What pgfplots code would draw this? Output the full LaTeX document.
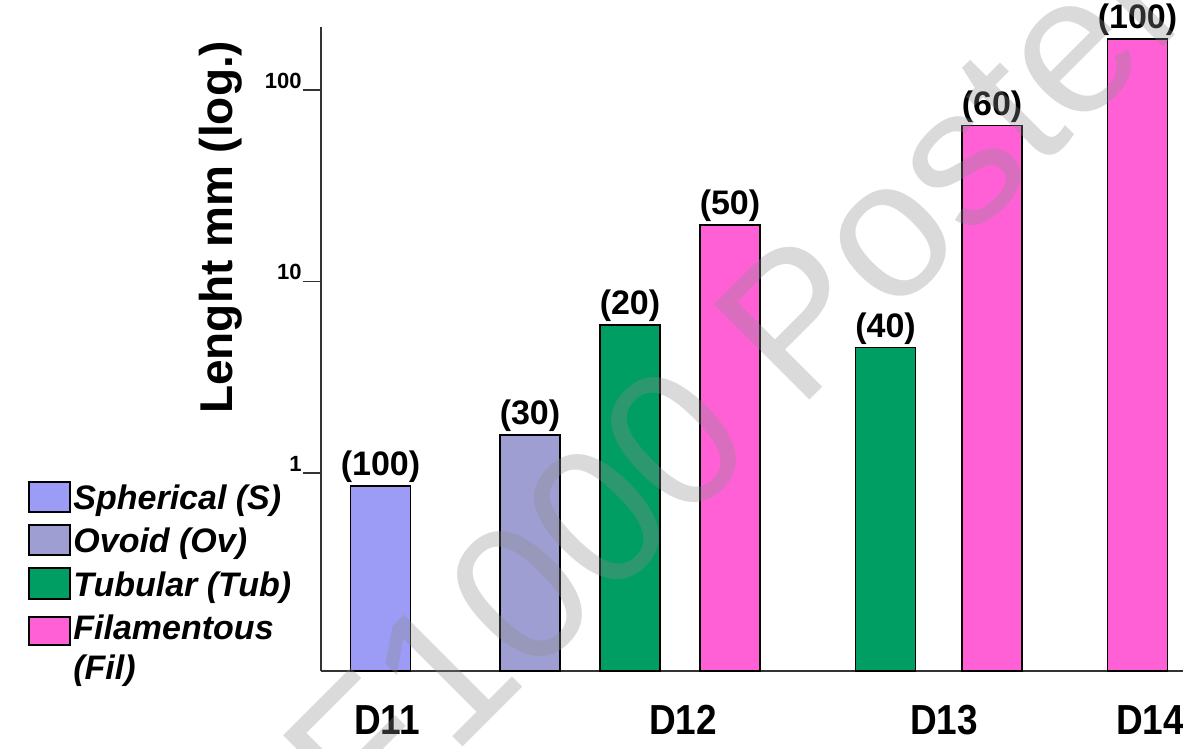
\documentclass[border=0pt]{standalone}
\usepackage{pgfplots}
\pgfplotsset{compat=1.18}
\usepackage{fontspec}
\setmainfont{Liberation Sans}
\definecolor{sph}{HTML}{9C9CF6}
\definecolor{ovo}{HTML}{9E9ED2}
\definecolor{tub}{HTML}{009E62}
\definecolor{fil}{HTML}{FF60D6}
\pgfplotsset{
  barlab/.style={ybar, bar width=30pt, bar shift=0pt, draw=black, line width=0.6pt,
    nodes near coords, point meta=explicit symbolic,
    every node near coord/.append style={font=\fontsize{17}{17}\selectfont\bfseries, anchor=south, inner sep=1.5pt, text=black}},
}
\begin{document}
\begin{tikzpicture}
\begin{axis}[
  at={(0pt,0pt)}, anchor=south west, scale only axis,
  width=431pt, height=322pt,
  xmin=321, xmax=1183,
  ymode=log, ymin=0.0925, ymax=213, log origin y=infty,
  axis x line*=bottom, axis y line*=left,
  axis line style={black!80, line width=0.8pt},
  xtick={387,683,944,1150}, xticklabels={D11,D12,D13,D14},
  xtick style={draw=none},
  xticklabel style={font=\fontsize{21}{21}\selectfont\bfseries, anchor=north, inner sep=0pt, yshift=-8pt, xscale=0.88},
  ytick={1,10,100}, yticklabels={\textbf{1},\textbf{10},\textbf{100}},
  minor tick length=0pt, minor y tick style={draw=none},
  tick align=outside, major tick length=9pt,
  ytick style={black!80, line width=0.8pt},
  yticklabel style={font=\fontsize{11}{11}\selectfont\bfseries, anchor=south east, inner sep=0.5pt},
  ylabel={Lenght mm (log.)},
  ylabel style={at={(axis description cs:-0.116,0.689)}, anchor=center, font=\fontsize{23}{23}\selectfont\bfseries},
  clip=false,
]
\addplot[barlab, fill=sph] table[meta=lab] {
x y lab
380.5 0.855 (100)
};
\addplot[barlab, fill=ovo] table[meta=lab] {
x y lab
530 1.58 (30)
};
\addplot[barlab, fill=tub] table[meta=lab] {
x y lab
630 5.93 (20)
885.5 4.5 (40)
};
\addplot[barlab, fill=fil] table[meta=lab] {
x y lab
730 19.7 (50)
992 64.9 (60)
1137.5 184.6 (100)
};
\end{axis}
% legend
\begin{scope}[every node/.style={anchor=base west, inner sep=0pt, font=\fontsize{17}{17}\selectfont\bfseries\itshape}]
\draw[black, line width=0.6pt, fill=sph] (-146pt,79.5pt) rectangle (-125.5pt,94.5pt);
\node at (-124pt,80.5pt) {Spherical (S)};
\draw[black, line width=0.6pt, fill=ovo] (-146pt,58pt) rectangle (-125.5pt,73pt);
\node at (-124pt,59pt) {Ovoid (Ov)};
\draw[black, line width=0.6pt, fill=tub] (-146pt,36pt) rectangle (-125.5pt,51.5pt);
\node at (-124pt,37pt) {Tubular (Tub)};
\draw[black, line width=0.6pt, fill=fil] (-146pt,13pt) rectangle (-125.5pt,27pt);
\node at (-124pt,15.5pt) {Filamentous};
\node at (-124pt,-4.5pt) {(Fil)};
\end{scope}
% watermark
\node[rotate=45, anchor=base, text=black!45, opacity=0.32, inner sep=0pt,
  font=\fontsize{98}{98}\selectfont] at (248.5pt,139.5pt) {F1000 Posters};
\pgfresetboundingbox
\useasboundingbox (-160.5pt,-39pt) rectangle (431pt,335.5pt);
\end{tikzpicture}
\end{document}
